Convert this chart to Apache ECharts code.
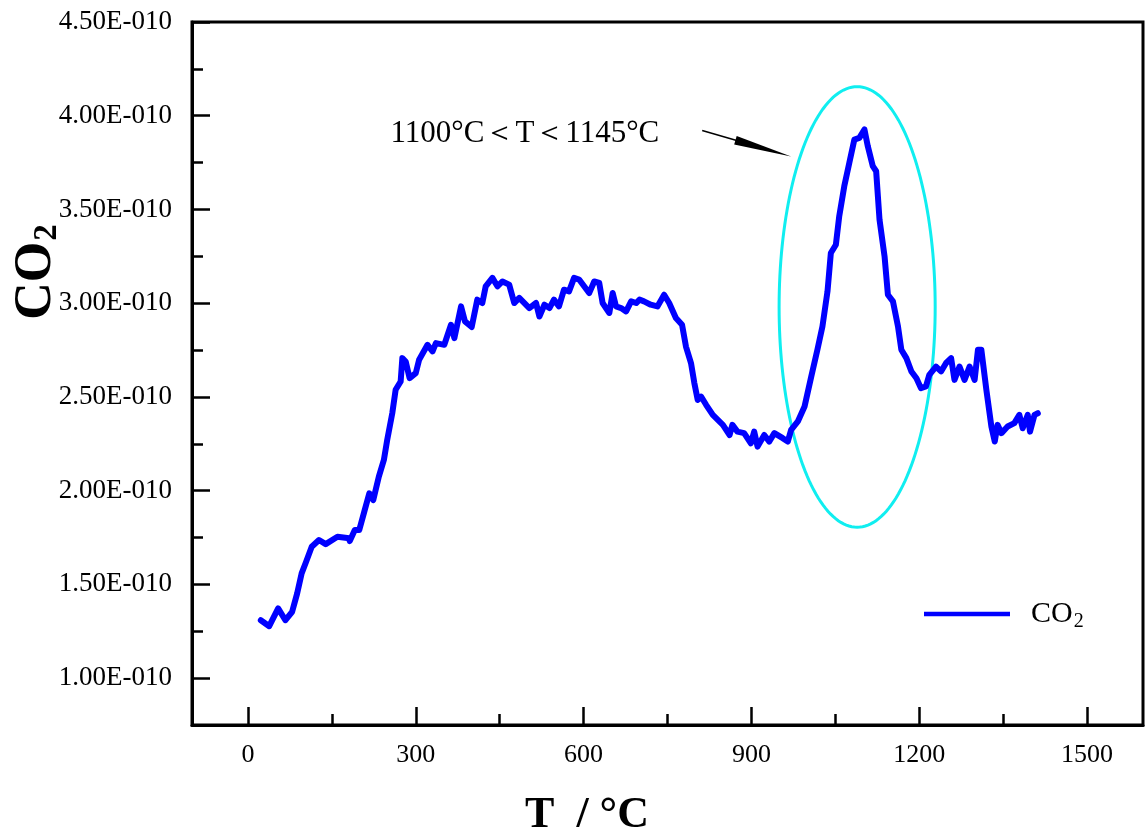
<!DOCTYPE html>
<html><head><meta charset="utf-8">
<script src="https://cdn.jsdelivr.net/npm/echarts@6/dist/echarts.min.js"></script>
<style>html,body{margin:0;padding:0;background:#fff}#c{width:1147px;height:828px}</style>
</head><body><div id="c"></div>
<script>
// Temperature (°C)
const temperature = [23,38,54,67,79,88,96,104,114,127,139,160,181,182,191,199,208,217,224,234,243,249,258,264,273,276,282,289,300,306,321,330,336,351,363,369,381,388,400,410,419,425,437,446,455,467,476,485,503,515,521,530,539,547,556,565,574,583,592,601,610,619,628,634,640,646,652,658,667,676,685,694,700,708,720,732,744,753,765,776,783,792,798,804,810,819,831,849,861,866,875,887,899,905,911,923,932,941,956,965,971,983,995,1007,1018,1027,1036,1042,1051,1057,1066,1075,1084,1093,1102,1108,1117,1123,1129,1138,1144,1153,1162,1168,1177,1186,1195,1203,1212,1218,1230,1239,1248,1257,1263,1272,1281,1290,1299,1305,1311,1320,1329,1335,1340,1347,1358,1370,1379,1385,1394,1398,1406,1412];
// CO2 signal, in units of 1E-010
const co2 = [1.309,1.277,1.372,1.309,1.354,1.452,1.559,1.621,1.701,1.737,1.715,1.754,1.746,1.731,1.790,1.790,1.888,1.986,1.950,2.075,2.164,2.271,2.413,2.538,2.582,2.707,2.689,2.600,2.627,2.698,2.778,2.743,2.787,2.778,2.885,2.814,2.983,2.903,2.873,3.019,3.001,3.090,3.135,3.090,3.116,3.099,3.001,3.028,2.974,3.001,2.929,2.992,2.974,3.019,2.983,3.072,3.063,3.135,3.126,3.090,3.054,3.116,3.108,3.001,2.974,2.948,3.054,2.983,2.974,2.956,3.010,3.001,3.019,3.010,2.992,2.983,3.045,3.001,2.921,2.885,2.769,2.681,2.574,2.484,2.502,2.458,2.404,2.351,2.297,2.351,2.315,2.307,2.253,2.315,2.235,2.297,2.262,2.307,2.280,2.262,2.324,2.369,2.449,2.609,2.752,2.876,3.063,3.268,3.312,3.464,3.624,3.749,3.873,3.882,3.927,3.838,3.731,3.704,3.446,3.250,3.045,3.010,2.876,2.752,2.707,2.636,2.600,2.547,2.556,2.618,2.662,2.636,2.681,2.707,2.591,2.662,2.591,2.662,2.591,2.752,2.752,2.538,2.342,2.262,2.351,2.307,2.342,2.360,2.404,2.333,2.404,2.315,2.404,2.413];

const xMajorTicks = [0,300,600,900,1200,1500];
const xMinorTicks = [150,450,750,1050,1350];
const yMajorTicks = [1.0,1.5,2.0,2.5,3.0,3.5,4.0,4.5];
const yMinorTicks = [1.25,1.75,2.25,2.75,3.25,3.75,4.25];
const seriesName = 'CO2';
const annotationLabel = '1100°C＜T＜1145°C';
// annotation geometry in data space
const ellipseCenter = [1089, 2.98];
const ellipseRadius = [139.5, 1.175];
const arrowFrom = [812, 3.921];
const arrowTo = [971, 3.783];
const labelAt = [495, 3.905];

const SERIF = '"Liberation Serif","Times New Roman",serif';
const chart = echarts.init(document.getElementById('c'), null, {renderer:'canvas'});

const lineData = temperature.map((t,i)=>[t, co2[i]]);

const baseX = {type:'value', min:-100, max:1600, position:'bottom', splitLine:{show:false}};
const baseY = {type:'value', min:0.75, max:4.5, position:'left', splitLine:{show:false}};

chart.setOption({
  backgroundColor:'#fff',
  animation:false,
  grid:{left:192, right:4, top:22, bottom:103, show:true, borderColor:'#000', borderWidth:3, backgroundColor:'transparent'},
  xAxis:[
    Object.assign({}, baseX, {
      axisLine:{show:true, onZero:false, lineStyle:{color:'#000', width:3}},
      axisTick:{show:true, inside:true, length:18, lineStyle:{color:'#000', width:2.5}, customValues:xMajorTicks},
      axisLabel:{show:true, margin:17, color:'#000', fontFamily:SERIF, fontSize:26, customValues:xMajorTicks,
        formatter:v=>String(Math.round(v))}
    }),
    Object.assign({}, baseX, {
      axisLine:{show:false, onZero:false},
      axisTick:{show:true, inside:true, length:11, lineStyle:{color:'#000', width:2.5}, customValues:xMinorTicks},
      axisLabel:{show:false}
    })
  ],
  yAxis:[
    Object.assign({}, baseY, {
      axisLine:{show:true, onZero:false, lineStyle:{color:'#000', width:3}},
      axisTick:{show:true, inside:true, length:18, lineStyle:{color:'#000', width:2.5}, customValues:yMajorTicks},
      axisLabel:{show:true, margin:20, color:'#000', fontFamily:SERIF, fontSize:27, customValues:yMajorTicks,
        formatter:v=>v.toFixed(2)+'E-010'}
    }),
    Object.assign({}, baseY, {
      axisLine:{show:false, onZero:false},
      axisTick:{show:true, inside:true, length:11, lineStyle:{color:'#000', width:2.5}, customValues:yMinorTicks},
      axisLabel:{show:false}
    })
  ],
  legend:{
    data:[seriesName], left:919, top:594, itemWidth:86, itemHeight:34, itemGap:0,
    icon:'path://M0,15 L86,15 L86,19.5 L0,19.5 Z',
    itemStyle:{color:'#0000ff'},
    formatter:()=> '{a|CO}{b|2}',
    textStyle:{padding:[0,0,0,16], rich:{
      a:{fontFamily:SERIF, fontSize:30, color:'#000'},
      b:{fontFamily:SERIF, fontSize:20, color:'#000', padding:[16,0,0,1]}
    }}
  },
  title:[
    {text:'T  / °C', left:582, top:789, textAlign:'center',
      textStyle:{fontFamily:SERIF, fontWeight:'bold', fontSize:44, color:'#000'}}
  ],
  graphic:[
    {type:'text', x:37, y:272, rotation:Math.PI/2,
      style:{text:'{a|CO}{b|2}', align:'center', verticalAlign:'middle',
        rich:{a:{font:'bold 52px '+SERIF, fill:'#000'}, b:{font:'bold 33px '+SERIF, fill:'#000', padding:[20,0,0,1]}}}}
  ],
  series:[
    {
      type:'custom', coordinateSystem:'cartesian2d', xAxisIndex:0, yAxisIndex:0, z:1, silent:true, clip:false,
      data:[ellipseCenter],
      renderItem:(params, api)=>{
        const c = api.coord(ellipseCenter);
        const rx = api.coord([ellipseCenter[0]+ellipseRadius[0], ellipseCenter[1]])[0]-c[0];
        const ry = c[1]-api.coord([ellipseCenter[0], ellipseCenter[1]+ellipseRadius[1]])[1];
        const pts=[];
        for(let i=0;i<180;i++){const t=i/180*2*Math.PI; pts.push([c[0]+rx*Math.cos(t), c[1]+ry*Math.sin(t)]);}
        const a=api.coord(arrowFrom), b=api.coord(arrowTo);
        const dx=b[0]-a[0], dy=b[1]-a[1], L=Math.hypot(dx,dy), ux=dx/L, uy=dy/L, nx=-uy, ny=ux;
        const headLen=58, headW=4.5;
        const base=[b[0]-ux*headLen, b[1]-uy*headLen];
        const tp=api.coord(labelAt);
        return {type:'group', children:[
          {type:'polygon', shape:{points:pts}, style:{fill:'none', stroke:'#10eef0', lineWidth:3}},
          {type:'line', shape:{x1:a[0],y1:a[1],x2:base[0]+ux*4,y2:base[1]+uy*4}, style:{stroke:'#000', lineWidth:1.5}},
          {type:'polygon', shape:{points:[[base[0]+nx*headW, base[1]+ny*headW],[b[0],b[1]],[base[0]-nx*headW, base[1]-ny*headW]]}, style:{fill:'#000'}},
          {type:'text', x:tp[0], y:tp[1], style:{text:annotationLabel, font:'31px '+SERIF, fill:'#000', align:'center', verticalAlign:'middle'}}
        ]};
      }
    },
    {
      name:seriesName, type:'line', xAxisIndex:0, yAxisIndex:0, z:3,
      data:lineData, showSymbol:false, symbol:'none', smooth:false,
      lineStyle:{color:'#0000ff', width:6, join:'round', cap:'round'},
      itemStyle:{color:'#0000ff'}
    }
  ]
});
</script></body></html>
